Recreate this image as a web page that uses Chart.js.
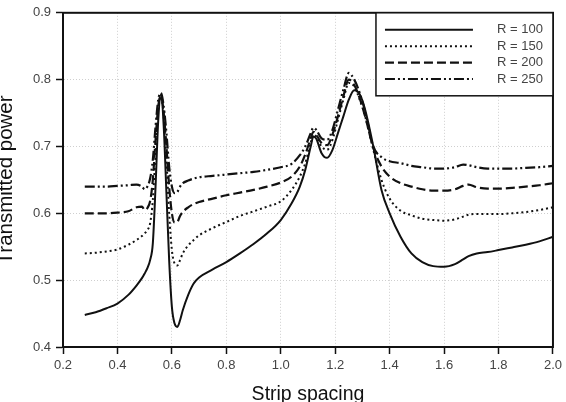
<!DOCTYPE html>
<html>
<head>
<meta charset="utf-8">
<script src="https://cdn.jsdelivr.net/npm/chart.js@4"></script>
<style>
html,body{margin:0;padding:0;background:#fff;}
#wrap{width:566px;height:402px;position:relative;}
</style>
</head>
<body>
<div id="wrap"><canvas id="c" width="566" height="402"></canvas></div>
<script>
const xValues = [0.28,0.32,0.36,0.40,0.44,0.47,0.49,0.50,0.51,0.52,0.53,0.54,0.55,0.56,0.57,0.58,0.59,0.60,0.61,0.62,0.63,0.64,0.66,0.68,0.70,0.75,0.80,0.85,0.90,0.95,1.00,1.04,1.07,1.09,1.11,1.12,1.13,1.15,1.17,1.19,1.21,1.23,1.25,1.27,1.29,1.31,1.34,1.37,1.40,1.44,1.48,1.52,1.56,1.60,1.64,1.67,1.69,1.72,1.76,1.80,1.85,1.90,1.95,2.00];

const r100 = [0.448,0.452,0.458,0.465,0.478,0.492,0.503,0.510,0.518,0.530,0.555,0.640,0.740,0.778,0.730,0.630,0.530,0.460,0.435,0.430,0.440,0.455,0.478,0.495,0.504,0.516,0.527,0.540,0.554,0.570,0.590,0.615,0.640,0.665,0.700,0.715,0.712,0.690,0.683,0.695,0.720,0.745,0.770,0.784,0.778,0.755,0.700,0.635,0.600,0.565,0.540,0.527,0.521,0.520,0.524,0.531,0.536,0.540,0.542,0.545,0.549,0.553,0.558,0.565];

const r150 = [0.540,0.541,0.543,0.546,0.553,0.560,0.566,0.570,0.575,0.585,0.620,0.690,0.755,0.775,0.745,0.680,0.600,0.545,0.525,0.522,0.530,0.540,0.552,0.560,0.567,0.578,0.587,0.596,0.603,0.610,0.618,0.635,0.655,0.675,0.705,0.718,0.715,0.700,0.695,0.710,0.740,0.770,0.795,0.790,0.770,0.745,0.695,0.650,0.622,0.604,0.597,0.592,0.590,0.589,0.591,0.595,0.598,0.599,0.599,0.599,0.600,0.602,0.605,0.609];

const r200 = [0.600,0.600,0.600,0.601,0.603,0.609,0.610,0.605,0.608,0.618,0.650,0.710,0.760,0.776,0.750,0.700,0.640,0.600,0.586,0.587,0.596,0.602,0.609,0.614,0.617,0.622,0.627,0.631,0.635,0.640,0.646,0.655,0.670,0.688,0.712,0.722,0.718,0.705,0.702,0.718,0.745,0.775,0.800,0.792,0.772,0.745,0.698,0.670,0.655,0.645,0.640,0.636,0.634,0.634,0.636,0.641,0.643,0.639,0.637,0.637,0.638,0.640,0.642,0.645];

const r250 = [0.640,0.640,0.640,0.641,0.642,0.643,0.640,0.636,0.640,0.652,0.680,0.730,0.770,0.780,0.760,0.720,0.670,0.640,0.630,0.632,0.640,0.645,0.649,0.652,0.654,0.656,0.658,0.660,0.662,0.665,0.669,0.674,0.687,0.700,0.720,0.728,0.725,0.712,0.710,0.725,0.755,0.785,0.810,0.800,0.780,0.752,0.700,0.684,0.678,0.675,0.671,0.669,0.667,0.667,0.669,0.673,0.672,0.669,0.667,0.667,0.667,0.668,0.669,0.671];

const seriesLabels = ['R = 100','R = 150','R = 200','R = 250'];
const xTicks = [0.2,0.4,0.6,0.8,1.0,1.2,1.4,1.6,1.8,2.0];
const yTicks = [0.4,0.5,0.6,0.7,0.8,0.9];

const styles = [
  {dash: [], width: 2},
  {dash: [2,3], width: 2},
  {dash: [9,4], width: 2.2},
  {dash: [10,3,2,3,2,3], width: 2.2}
];
const allSeries = [r100, r150, r200, r250];

const datasets = allSeries.map((s, i) => ({
  label: seriesLabels[i],
  data: xValues.map((x, j) => ({x: x, y: s[j]})),
  borderColor: '#111',
  borderWidth: styles[i].width,
  borderDash: styles[i].dash,
  pointRadius: 0,
  fill: false,
  cubicInterpolationMode: 'monotone',
  order: 4 - i
}));

const framePlugin = {
  id: 'frame',
  afterDraw(chart) {
    const {ctx, chartArea: a} = chart;
    ctx.save();
    ctx.strokeStyle = '#111';
    ctx.lineWidth = 2;
    ctx.strokeRect(a.left, a.top, a.right - a.left, a.bottom - a.top);
    const bw = 177, bh = 83;
    const bx = a.right - bw, by = a.top;
    ctx.fillStyle = '#fff';
    ctx.fillRect(bx, by, bw, bh);
    ctx.lineWidth = 1.5;
    ctx.strokeRect(bx, by, bw, bh);
    ctx.font = '13px "Liberation Sans", Arial, sans-serif';
    ctx.textAlign = 'right';
    ctx.textBaseline = 'middle';
    chart.data.datasets.forEach((ds, i) => {
      const ly = by + 17 + i * 16.4;
      ctx.strokeStyle = '#111';
      ctx.lineWidth = ds.borderWidth;
      ctx.setLineDash(ds.borderDash);
      ctx.beginPath();
      ctx.moveTo(bx + 9, ly);
      ctx.lineTo(bx + 97, ly);
      ctx.stroke();
      ctx.setLineDash([]);
      ctx.fillStyle = '#444';
      ctx.fillText(ds.label, bx + 167, ly);
    });
    ctx.restore();
  }
};

new Chart(document.getElementById('c'), {
  type: 'line',
  data: {datasets},
  options: {
    responsive: false,
    animation: false,
    devicePixelRatio: 1,
    layout: {padding: {top: 10, right: 10, left: 0, bottom: 0}},
    plugins: {legend: {display: false}, tooltip: {enabled: false}},
    scales: {
      x: {
        type: 'linear',
        min: 0.2, max: 2.0,
        afterBuildTicks: (s) => { s.ticks = xTicks.map(v => ({value: v})); },
        afterFit: (s) => { s.height = 55; },
        ticks: {
          callback: (v) => Number(v).toFixed(1),
          color: '#444',
          font: {size: 13, family: '"Liberation Sans", Arial, sans-serif'},
          padding: 4,
          maxRotation: 0
        },
        grid: {color: '#cfcfcf', lineWidth: 1, tickLength: 7, tickColor: '#111', tickWidth: 1.5},
        border: {display: true, color: '#111', width: 2, dash: [1,2]},
        title: {
          display: true, text: 'Strip spacing', color: '#111',
          font: {size: 19.5, family: '"Liberation Sans", Arial, sans-serif', lineHeight: 0.72},
          padding: 0
        }
      },
      y: {
        type: 'linear',
        min: 0.4, max: 0.9,
        afterBuildTicks: (s) => { s.ticks = yTicks.map(v => ({value: v})); },
        afterFit: (s) => { s.width = 63; },
        ticks: {
          callback: (v) => Number(v).toFixed(1),
          color: '#444',
          font: {size: 13, family: '"Liberation Sans", Arial, sans-serif'},
          padding: 5
        },
        grid: {color: '#cfcfcf', lineWidth: 1, tickLength: 7, tickColor: '#111', tickWidth: 1.5},
        border: {display: true, color: '#111', width: 2, dash: [1,2]},
        title: {
          display: true, text: 'Transmitted power', color: '#111',
          font: {size: 20.5, family: '"Liberation Sans", Arial, sans-serif', lineHeight: 0.64},
          padding: 0
        }
      }
    }
  },
  plugins: [framePlugin]
});
</script>
</body>
</html>
